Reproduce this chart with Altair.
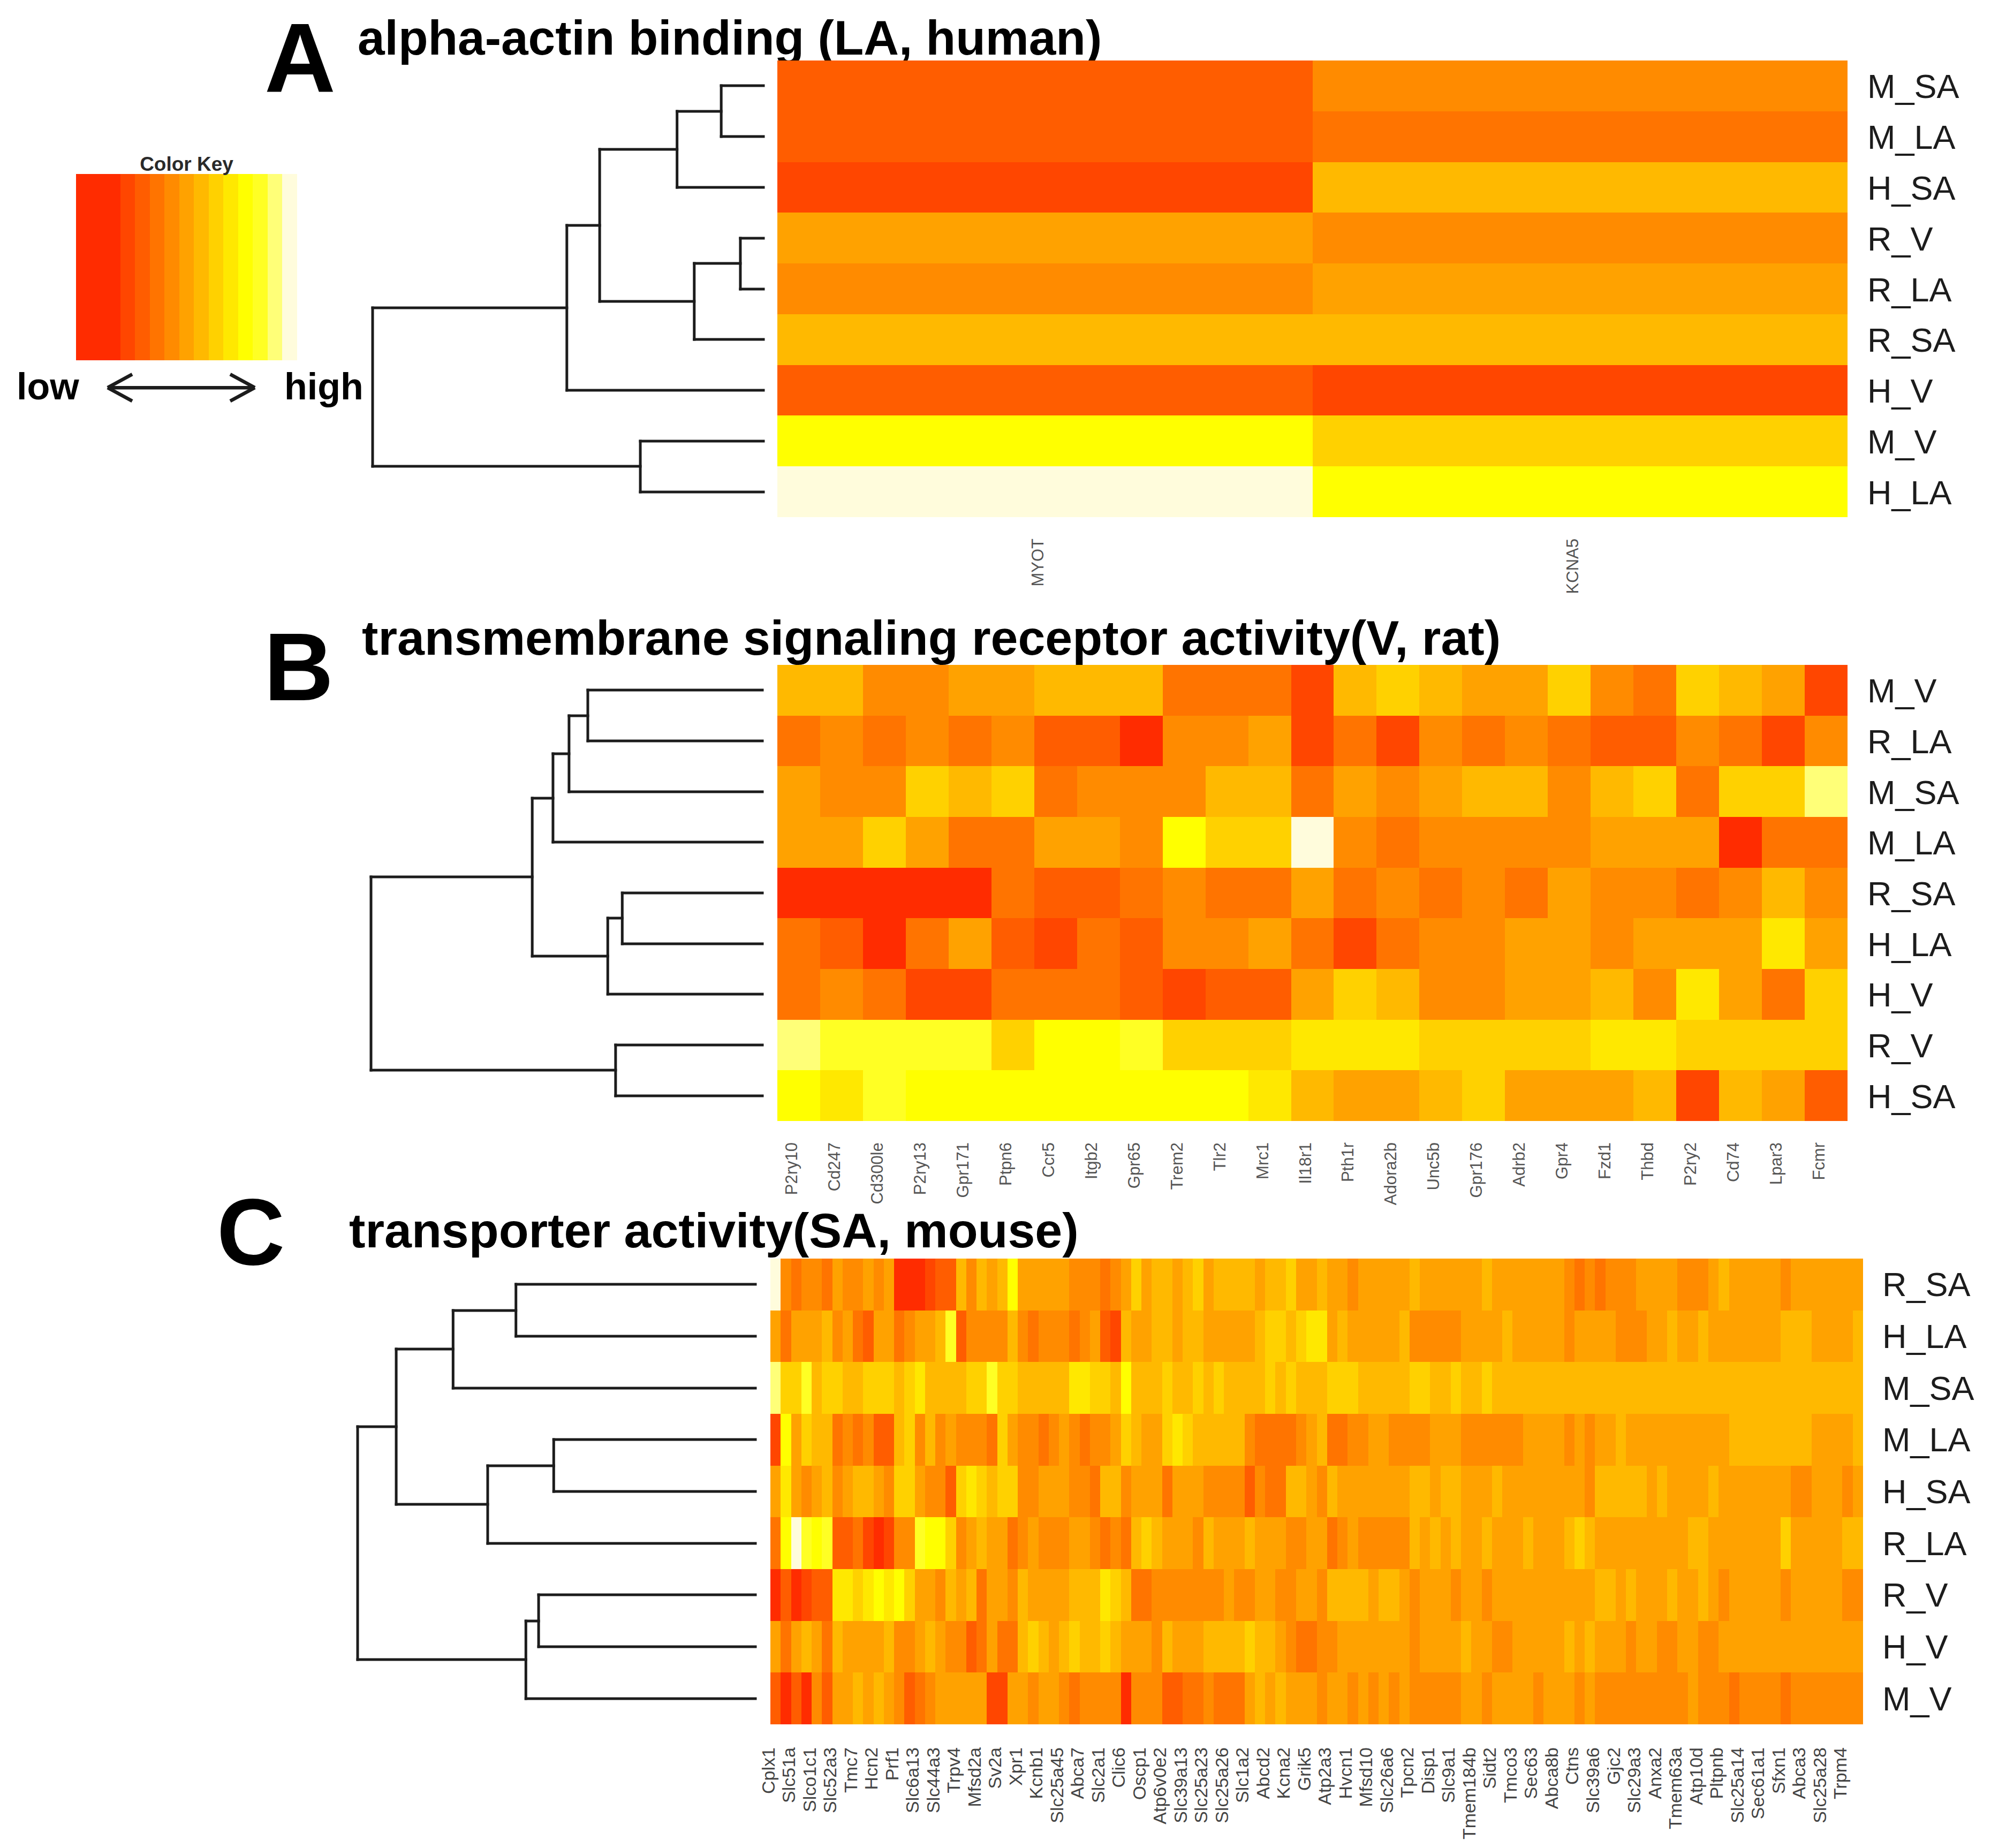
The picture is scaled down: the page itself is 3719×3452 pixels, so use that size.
import altair as alt
import pandas as pd

# ---------- palette ----------
PALETTE = ["#FF2C00", "#FF4600", "#FF5D00", "#FF7400", "#FF8B00", "#FFA200", "#FFB900",
           "#FFD100", "#FFE800", "#FFFF00", "#FFFF24", "#FFFF78", "#FFFCDC"]
KEY_LEVELS = [0, 0, 0, 1, 2, 3, 4, 5, 6, 7, 8, 9, 10, 11, 12]

# ---------- panel A ----------
A_rows = ["M_SA", "M_LA", "H_SA", "R_V", "R_LA", "R_SA", "H_V", "M_V", "H_LA"]
A_cols = ["MYOT", "KCNA5"]
A_M_SA = [2, 4]
A_M_LA = [2, 3]
A_H_SA = [1, 6]
A_R_V = [5, 4]
A_R_LA = [4, 5]
A_R_SA = [6, 6]
A_H_V = [2, 1]
A_M_V = [9, 7]
A_H_LA = [12, 9]
A_levels = [A_M_SA, A_M_LA, A_H_SA, A_R_V, A_R_LA, A_R_SA, A_H_V, A_M_V, A_H_LA]
A_merges = [(0, 1, .108), (9, 2, .221), (3, 4, .059), (11, 5, .177), (10, 12, .419), (13, 6, .503), (7, 8, .315), (14, 15, 1.0)]

# ---------- panel B ----------
B_rows = ["M_V", "R_LA", "M_SA", "M_LA", "R_SA", "H_LA", "H_V", "R_V", "H_SA"]
B_cols = ["P2ry10", "Cd247", "Cd300le", "P2ry13", "Gpr171", "Ptpn6", "Ccr5", "Itgb2", "Gpr65", "Trem2", "Tlr2", "Mrc1",
          "Il18r1", "Pth1r", "Adora2b", "Unc5b", "Gpr176", "Adrb2", "Gpr4", "Fzd1", "Thbd", "P2ry2", "Cd74", "Lpar3", "Fcmr"]
B_M_V = [6, 6, 4, 4, 5, 5, 6, 6, 6, 3, 3, 3, 1, 6, 7, 6, 5, 5, 7, 4, 3, 7, 6, 5, 1]
B_R_LA = [3, 4, 3, 4, 3, 4, 2, 2, 0, 4, 4, 5, 1, 3, 1, 4, 3, 4, 3, 2, 2, 4, 3, 1, 4]
B_M_SA = [5, 4, 4, 7, 6, 7, 3, 4, 4, 4, 6, 6, 3, 5, 4, 5, 6, 6, 4, 6, 7, 3, 7, 7, 11]
B_M_LA = [5, 5, 7, 5, 3, 3, 5, 5, 4, 9, 7, 7, 12, 4, 3, 4, 4, 4, 4, 5, 5, 5, 0, 3, 3]
B_R_SA = [0, 0, 0, 0, 0, 3, 2, 2, 3, 4, 3, 3, 5, 3, 4, 3, 4, 3, 5, 4, 4, 3, 4, 6, 4]
B_H_LA = [3, 2, 0, 3, 5, 2, 1, 3, 2, 4, 4, 5, 3, 1, 3, 4, 4, 5, 5, 4, 5, 5, 5, 8, 5]
B_H_V = [3, 4, 3, 1, 1, 3, 3, 3, 2, 1, 2, 2, 5, 7, 6, 4, 4, 5, 5, 6, 4, 8, 5, 3, 7]
B_R_V = [11, 10, 10, 10, 10, 7, 9, 9, 10, 7, 7, 7, 8, 8, 8, 7, 7, 7, 7, 8, 8, 7, 7, 7, 7]
B_H_SA = [9, 8, 10, 9, 9, 9, 9, 9, 9, 9, 9, 8, 6, 5, 5, 6, 7, 5, 5, 5, 6, 1, 6, 5, 2]
B_levels = [B_M_V, B_R_LA, B_M_SA, B_M_LA, B_R_SA, B_H_LA, B_H_V, B_R_V, B_H_SA]
B_merges = [(0, 1, .446), (9, 2, .494), (10, 3, .535), (4, 5, .358), (12, 6, .395), (11, 13, .588), (7, 8, .375), (14, 15, 1.0)]

# ---------- panel C ----------
C_rows = ["R_SA", "H_LA", "M_SA", "M_LA", "H_SA", "R_LA", "R_V", "H_V", "M_V"]
C_labels = ["Cplx1", "Slc51a", "Slco1c1", "Slc52a3", "Tmc7", "Hcn2", "Prf1", "Slc6a13", "Slc44a3", "Trpv4", "Mfsd2a", "Sv2a",
            "Xpr1", "Kcnb1", "Slc25a45", "Abca7", "Slc2a1", "Clic6", "Oscp1", "Atp6v0e2", "Slc39a13", "Slc25a23", "Slc25a26",
            "Slc1a2", "Abcd2", "Kcna2", "Grik5", "Atp2a3", "Hvcn1", "Mfsd10", "Slc26a6", "Tpcn2", "Disp1", "Slc9a1", "Tmem184b",
            "Sidt2", "Tmco3", "Sec63", "Abca8b", "Ctns", "Slc39a6", "Gjc2", "Slc29a3", "Anxa2", "Tmem63a", "Atp10d", "Pltpnb",
            "Slc25a14", "Sec61a1", "Sfxn1", "Abca3", "Slc25a28", "Trpm4"]
C_R_SA = [12,4,3,4,4,3,5,4,4,5,4,5,0,0,0,1,2,2,6,4,6,5,6,9,5,5,
          5,5,5,4,4,4,3,4,5,7,5,6,6,5,6,7,5,6,6,6,6,5,6,6,7,5,5,
          6,5,5,4,5,5,5,5,5,6,5,5,5,5,5,5,6,5,5,5,5,5,5,5,4,3,4,
          3,4,4,4,5,5,5,5,4,4,4,5,6,5,5,5,5,5,4,5,5,5,5,5,5,5]
C_H_LA = [5,3,5,5,5,6,4,5,3,2,5,5,3,4,5,5,6,10,2,4,4,4,4,6,4,3,
          4,4,4,3,4,5,2,1,6,5,5,6,6,5,6,6,5,5,5,5,5,6,7,7,6,7,8,
          8,5,6,5,5,5,5,5,6,4,4,4,4,4,5,5,5,5,6,5,5,5,5,5,4,5,5,
          5,5,4,4,4,5,5,6,5,5,6,5,5,5,5,5,5,5,6,6,6,5,5,5,5,6]
C_M_SA = [11,7,7,10,6,7,7,6,6,7,7,7,6,7,8,6,6,6,6,7,7,10,7,7,6,6,
          6,6,6,8,8,7,7,6,9,6,6,6,7,6,6,7,6,7,6,6,6,6,7,6,7,6,6,
          6,7,7,7,6,6,6,6,6,7,7,6,6,7,6,6,7,6,6,6,6,6,6,6,6,6,6,
          6,6,6,6,6,6,6,6,6,6,6,6,6,6,6,6,6,6,6,6,6,6,6,6,6,6]
C_M_LA = [1,9,5,7,6,6,3,4,3,4,2,2,6,7,4,6,4,5,4,4,4,3,7,5,4,4,
          3,4,5,4,3,4,4,5,7,6,5,5,7,8,7,6,6,6,6,6,4,3,3,3,3,4,5,
          6,3,3,4,4,5,5,4,4,4,4,5,5,5,4,4,4,4,4,4,5,5,5,5,4,5,4,
          5,5,6,5,5,5,5,5,5,5,5,5,5,6,6,6,6,6,6,6,6,5,5,5,5,6]
C_H_SA = [5,8,5,4,5,6,4,5,6,6,5,4,7,7,5,4,4,2,7,8,7,6,7,7,4,4,
          5,5,5,4,4,3,6,6,4,5,5,5,3,5,5,5,4,4,4,4,2,4,3,3,6,6,5,
          4,6,5,5,5,5,5,5,5,6,6,5,6,6,5,5,5,6,5,5,5,5,5,5,5,5,4,
          6,6,6,6,6,5,6,5,5,5,5,6,5,5,5,5,5,5,5,4,4,5,5,5,4,5]
C_R_LA = [3,9,12,10,9,10,2,2,3,1,0,1,4,4,10,9,9,7,4,5,6,5,5,3,4,5,
          4,4,4,5,5,4,3,4,3,6,7,6,5,5,5,4,6,5,5,5,6,5,5,5,4,4,5,
          5,3,4,5,4,4,4,4,4,6,5,6,5,6,5,5,6,5,5,5,6,5,5,5,6,7,6,
          5,5,5,5,5,5,5,5,5,6,6,5,5,5,5,5,5,5,7,5,5,5,5,5,6,6]
C_R_V = [0,2,0,1,2,2,8,8,7,8,9,8,9,7,5,5,4,6,5,6,3,5,5,4,6,5,
         5,5,5,6,6,6,8,7,6,3,3,4,4,4,4,4,4,4,5,4,4,5,5,4,4,5,5,
         4,6,6,6,6,5,6,6,5,4,5,5,5,4,5,5,4,5,5,5,5,5,5,5,5,5,5,
         6,6,5,6,5,5,5,6,5,5,6,5,4,5,5,5,5,5,4,5,5,5,5,5,4,4]
C_H_V = [5,3,5,6,5,3,6,5,5,5,5,6,4,4,5,6,5,4,4,2,3,5,3,3,6,7,
         6,5,6,7,6,6,7,6,5,5,5,4,6,5,5,5,6,6,6,6,7,6,6,5,4,3,3,
         4,4,5,5,5,5,5,5,5,4,5,5,5,5,6,5,5,4,4,5,5,5,5,5,6,5,6,
         5,5,5,4,5,5,4,4,5,5,4,4,5,5,5,5,5,5,5,5,5,5,5,5,5,5]
C_M_V = [2,0,2,0,4,2,5,5,6,5,6,5,4,2,3,4,5,5,5,5,5,1,1,5,5,4,
         5,5,4,3,4,4,4,4,0,4,4,4,2,2,3,3,4,3,3,3,5,6,5,6,5,5,5,
         4,5,5,4,5,4,5,4,5,4,4,4,4,4,5,5,4,5,5,5,5,4,5,5,5,4,5,
         4,4,4,4,4,4,4,4,4,5,4,4,4,3,4,4,4,4,3,4,4,4,4,4,4,4]
C_levels = [C_R_SA, C_H_LA, C_M_SA, C_M_LA, C_H_SA, C_R_LA, C_R_V, C_H_V, C_M_V]
C_merges = [(0, 1, .602), (9, 2, .760), (3, 4, .507), (11, 5, .673), (10, 12, .903), (6, 7, .545), (14, 8, .577), (13, 15, 1.0)]
C_ncols = 106

M = 8  # page margin
FONT = "Liberation Sans"
DARK = "#1c1c1c"


def sx(l, r, n):
    return alt.Scale(domain=[0, n], range=[l - M, r - M], nice=False, zero=False, round=True)


def sy(t, b):
    return alt.Scale(domain=[0, 9], range=[t - M, b - M], nice=False, zero=False, round=True)


def heat(levels, l, r, t, b):
    n = len(levels[0])
    rec = [{"c0": j, "c1": j + 1, "r0": i, "r1": i + 1, "level": v}
           for i, row in enumerate(levels) for j, v in enumerate(row)]
    return alt.Chart(pd.DataFrame(rec)).mark_rect(stroke=None).encode(
        x=alt.X("c0:Q", scale=sx(l, r, n), axis=None), x2="c1:Q",
        y=alt.Y("r0:Q", scale=sy(t, b), axis=None), y2="r1:Q",
        color=alt.Color("level:O", scale=alt.Scale(domain=list(range(len(PALETTE))), range=PALETTE), legend=None))


def dendro(merges, leaf, root, t, b):
    ypos = {i: i + .5 for i in range(9)}
    hpos = {i: 0.0 for i in range(9)}
    seg = []
    for k, (p, q, h) in enumerate(merges):
        for c in (p, q):
            seg.append({"h0": hpos[c], "h1": h, "y0": ypos[c], "y1": ypos[c]})
        seg.append({"h0": h, "h1": h, "y0": ypos[p], "y1": ypos[q]})
        ypos[9 + k] = (ypos[p] + ypos[q]) / 2
        hpos[9 + k] = h
    return alt.Chart(pd.DataFrame(seg)).mark_rule(color=DARK, strokeWidth=5, strokeCap="square").encode(
        x=alt.X("h0:Q", scale=alt.Scale(domain=[0, 1], range=[leaf - M, root - M], nice=False, zero=False), axis=None),
        x2="h1:Q",
        y=alt.Y("y0:Q", scale=sy(t, b), axis=None), y2="y1:Q")


def row_labels(rows, x, t, b, size, dy):
    df = pd.DataFrame({"name": rows, "r": [i + .5 for i in range(len(rows))]})
    return alt.Chart(df).mark_text(align="left", baseline="middle", dy=dy, font=FONT, fontSize=size, color=DARK).encode(
        x=alt.value(x - M), y=alt.Y("r:Q", scale=sy(t, b), axis=None), text="name:N")


def col_labels(names, positions, n, l, r, top, size, color):
    df = pd.DataFrame({"name": names, "c": positions})
    return alt.Chart(df).mark_text(align="right", baseline="middle", angle=270, dy=-12, font=FONT, fontSize=size,
                                   color=color).encode(
        x=alt.X("c:Q", scale=sx(l, r, n), axis=None), y=alt.value(top - M), text="name:N")


def label(txt, x, y, size, bold=True, align="left", color="#000000"):
    return alt.Chart(pd.DataFrame({"t": [txt]})).mark_text(
        align=align, baseline="alphabetic", font=FONT, fontSize=size, fontWeight="bold" if bold else "normal",
        color=color).encode(x=alt.value(x - M), y=alt.value(y - M), text="t:N")


# ---------- colour key ----------
K_L, K_R, K_T, K_B = 142, 555, 325, 673
key_df = pd.DataFrame([{"c0": j, "c1": j + 1, "r0": 0, "r1": 1, "level": v} for j, v in enumerate(KEY_LEVELS)])
key_x = alt.Scale(domain=[0, 15], range=[K_L - M, K_R - M], nice=False, zero=False, round=True)
key_y = alt.Scale(domain=[0, 1], range=[K_B - M, K_T - M], nice=False, zero=False)
key = alt.Chart(key_df).mark_rect(stroke=None).encode(
    x=alt.X("c0:Q", scale=key_x, axis=None), x2="c1:Q",
    y=alt.Y("r0:Q", scale=key_y, axis=None), y2="r1:Q",
    color=alt.Color("level:O", scale=alt.Scale(domain=list(range(len(PALETTE))), range=PALETTE), legend=None))

ARROW_L, ARROW_R, ARROW_Y, HEAD_X, HEAD_Y = 2.14, 12.13, -0.147, 1.67, 0.072
arrow_df = pd.DataFrame([
    {"x0": ARROW_L, "x1": ARROW_R, "y0": ARROW_Y, "y1": ARROW_Y},
    {"x0": ARROW_L, "x1": ARROW_L + HEAD_X, "y0": ARROW_Y, "y1": ARROW_Y + HEAD_Y},
    {"x0": ARROW_L, "x1": ARROW_L + HEAD_X, "y0": ARROW_Y, "y1": ARROW_Y - HEAD_Y},
    {"x0": ARROW_R, "x1": ARROW_R - HEAD_X, "y0": ARROW_Y, "y1": ARROW_Y + HEAD_Y},
    {"x0": ARROW_R, "x1": ARROW_R - HEAD_X, "y0": ARROW_Y, "y1": ARROW_Y - HEAD_Y},
])
arrow = alt.Chart(arrow_df).mark_rule(color=DARK, strokeWidth=6.5).encode(
    x=alt.X("x0:Q", scale=key_x, axis=None), x2="x1:Q",
    y=alt.Y("y0:Q", scale=key_y, axis=None), y2="y1:Q")

AL, AR, AT, AB = 1452, 3451, 113, 966
BL, BR, BT, BB = 1452, 3451, 1242, 2094
CL, CR, CT, CB = 1439, 3480, 2351, 3221

layers = [
    key, arrow,
    label("Color Key", (K_L + K_R) / 2, 319, 37, align="center", color="#2a2a2a"),
    label("low", 31, 746, 70), label("high", 531, 746, 70),
    label("A", 494, 171, 184), label("alpha-actin binding (LA, human)", 668, 102, 91),
    heat(A_levels, AL, AR, AT, AB), dendro(A_merges, 1426, 696, AT, AB),
    row_labels(A_rows, 3488, AT, AB, 63, 4),
    col_labels(A_cols, [.5, 1.5], 2, AL, AR, 1006, 31, "#555555"),
    label("B", 493, 1308, 180), label("transmembrane signaling receptor activity(V, rat)", 676, 1223, 91.5),
    heat(B_levels, BL, BR, BT, BB), dendro(B_merges, 1424, 693, BT, BB),
    row_labels(B_rows, 3488, BT, BB, 63, 4),
    col_labels(B_cols, [i + .5 for i in range(25)], 25, BL, BR, 2134, 31, "#555555"),
    label("C", 405, 2362, 176), label("transporter activity(SA, mouse)", 652, 2330, 91.5),
    heat(C_levels, CL, CR, CT, CB), dendro(C_merges, 1411, 668, CT, CB),
    row_labels(C_rows, 3516, CT, CB, 63, 3),
    col_labels(C_labels, [2 * i + .5 for i in range(len(C_labels))], C_ncols, CL, CR, 3264, 34, "#444444"),
]

chart = alt.layer(*layers).resolve_scale(x="independent", y="independent", color="shared").properties(
    width=3703, height=3436, padding=0, autosize=alt.AutoSizeParams(type="none"), background="white"
).configure_view(stroke=None)

chart.save("out.html", embed_options={"renderer": "svg", "actions": False})
